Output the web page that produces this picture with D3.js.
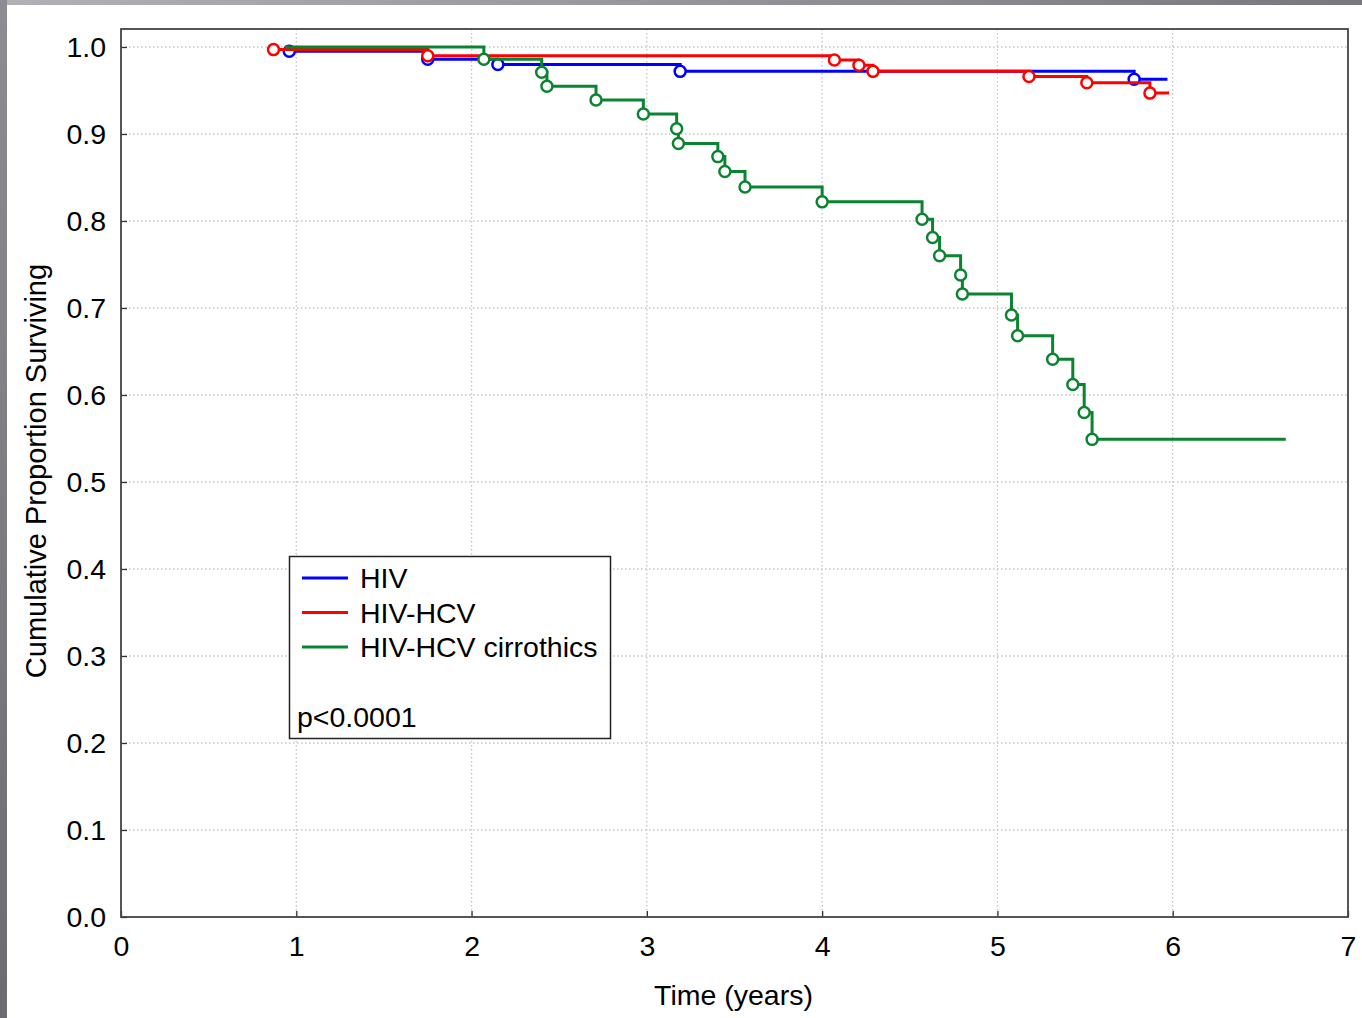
<!DOCTYPE html>
<html>
<head>
<meta charset="utf-8">
<script src="https://cdn.jsdelivr.net/npm/d3@7"></script>
<style>
  body { margin: 0; background: #fff; }
  text { font-family: "Liberation Sans", Arial, sans-serif; fill: #000; }
</style>
</head>
<body>
<svg id="chart"></svg>
<script>
// survival values (time in years, cumulative proportion)
const hivTime = [0.96, 1.75, 2.15, 3.19, 5.78];
const hivSurv = [0.995, 0.986, 0.980, 0.972, 0.963];
const hivEnd = 5.97;

const hcvTime = [0.87, 1.75, 4.07, 4.21, 4.29, 5.18, 5.51, 5.87];
const hcvSurv = [0.997, 0.990, 0.985, 0.979, 0.972, 0.966, 0.959, 0.947];
const hcvEnd = 5.98;

const cirrTime = [0.935, 2.07, 2.40, 2.43, 2.71, 2.98, 3.17, 3.18, 3.405, 3.445, 3.56, 4.00,
  4.57, 4.63, 4.67, 4.79, 4.80, 5.08, 5.115, 5.315, 5.43, 5.495, 5.54];
const cirrSurv = [1.0, 0.986, 0.971, 0.955, 0.939, 0.923, 0.906, 0.889, 0.874, 0.857, 0.839, 0.822,
  0.802, 0.781, 0.760, 0.738, 0.716, 0.692, 0.668, 0.641, 0.612, 0.580, 0.549];
const cirrEnd = 6.645;

const seriesNames = ["HIV", "HIV-HCV", "HIV-HCV cirrothics"];
const xTicks = [0, 1, 2, 3, 4, 5, 6, 7];
const yTicks = [0, 0.1, 0.2, 0.3, 0.4, 0.5, 0.6, 0.7, 0.8, 0.9, 1.0];
const pText = "p<0.0001";

const width = 1362, height = 1018;
const plotLeft = 121, plotRight = 1348, plotTop = 29, plotBottom = 917;

const svg = d3.select('#chart')
  .attr('width', width)
  .attr('height', height);

// grey window edge on top and left
const defs = svg.append('defs');
const gTop = defs.append('linearGradient').attr('id', 'gTop');
gTop.append('stop').attr('offset', '0%').attr('stop-color', '#b0b0b6');
gTop.append('stop').attr('offset', '100%').attr('stop-color', '#78787c');
const gLeft = defs.append('linearGradient').attr('id', 'gLeft')
  .attr('x1', 0).attr('y1', 0).attr('x2', 0).attr('y2', 1);
gLeft.append('stop').attr('offset', '0%').attr('stop-color', '#8c8c92');
gLeft.append('stop').attr('offset', '100%').attr('stop-color', '#6c6c70');

svg.append('rect').attr('width', width).attr('height', height).attr('fill', '#fff');
svg.append('rect').attr('x', 0).attr('y', 0).attr('width', width).attr('height', 5).attr('fill', 'url(#gTop)');
svg.append('rect').attr('x', 0).attr('y', 0).attr('width', 7).attr('height', height).attr('fill', 'url(#gLeft)');

const x = d3.scaleLinear().domain([0, 7]).range([plotLeft, plotRight]);
const y = d3.scaleLinear().domain([0, 1]).range([plotBottom, 47]);

// dotted grid
const grid = svg.append('g')
  .attr('stroke', '#c4c4c4')
  .attr('stroke-width', 1.3)
  .attr('stroke-dasharray', '1.5,2.5');
grid.selectAll('.vg')
  .data(xTicks.filter(d => d > 0 && d < 7))
  .join('line')
  .attr('class', 'vg')
  .attr('x1', d => x(d)).attr('x2', d => x(d))
  .attr('y1', plotTop).attr('y2', plotBottom);
grid.selectAll('.hg')
  .data(yTicks.filter(d => d > 0))
  .join('line')
  .attr('class', 'hg')
  .attr('x1', plotLeft).attr('x2', plotRight)
  .attr('y1', d => y(d)).attr('y2', d => y(d));

// axes, ticks pointing inwards
const yAxis = svg.append('g')
  .attr('transform', 'translate(' + plotLeft + ',0)')
  .call(d3.axisLeft(y).tickValues(yTicks).tickFormat(d3.format('.1f')).tickSize(-6).tickPadding(15));
const xAxis = svg.append('g')
  .attr('transform', 'translate(0,' + plotBottom + ')')
  .call(d3.axisBottom(x).tickValues(xTicks).tickFormat(d3.format('d')).tickSize(-6).tickPadding(19));

[xAxis, yAxis].forEach(a => {
  a.select('.domain').remove();
  a.selectAll('line').attr('stroke', '#333').attr('stroke-width', 1.3);
  a.selectAll('text')
    .attr('font-size', 28.5)
    .attr('font-family', '"Liberation Sans", Arial, sans-serif')
    .attr('fill', '#000');
});

// plot frame
svg.append('rect')
  .attr('x', plotLeft).attr('y', plotTop)
  .attr('width', plotRight - plotLeft).attr('height', plotBottom - plotTop)
  .attr('fill', 'none')
  .attr('stroke', '#444')
  .attr('stroke-width', 1.8);

// axis titles
svg.append('text')
  .attr('x', (plotLeft + plotRight) / 2 - 1)
  .attr('y', 1005)
  .attr('text-anchor', 'middle')
  .attr('font-size', 28.5)
  .text('Time (years)');
svg.append('text')
  .attr('transform', 'translate(46,471) rotate(-90)')
  .attr('text-anchor', 'middle')
  .attr('font-size', 29)
  .text('Cumulative Proportion Surviving');

// KM curves: blue under red under green
const series = [
  { name: seriesNames[0], color: '#0000ff', time: hivTime, surv: hivSurv, end: hivEnd, firstMark: true },
  { name: seriesNames[1], color: '#ff0000', time: hcvTime, surv: hcvSurv, end: hcvEnd, firstMark: true },
  { name: seriesNames[2], color: '#0a8430', time: cirrTime, surv: cirrSurv, end: cirrEnd, firstMark: false }
];

const line = d3.line()
  .x(d => x(d[0]))
  .y(d => y(d[1]))
  .curve(d3.curveStepAfter);

series.forEach(s => {
  const pts = s.time.map((t, i) => [t, s.surv[i]]);
  pts.push([s.end, s.surv[s.surv.length - 1]]);

  const g = svg.append('g');
  g.append('path')
    .attr('d', line(pts))
    .attr('fill', 'none')
    .attr('stroke', s.color)
    .attr('stroke-width', 3);

  const marks = s.time.map((t, i) => [t, s.surv[i]]).filter((d, i) => i > 0 || s.firstMark);
  g.selectAll('circle')
    .data(marks)
    .join('circle')
    .attr('cx', d => x(d[0]))
    .attr('cy', d => y(d[1]))
    .attr('r', 5.5)
    .attr('fill', '#fff')
    .attr('stroke', s.color)
    .attr('stroke-width', 2.5);
});

// legend box
const legend = svg.append('g');
legend.append('rect')
  .attr('x', 289.5).attr('y', 556.5)
  .attr('width', 321).attr('height', 182)
  .attr('fill', '#fff')
  .attr('stroke', '#222')
  .attr('stroke-width', 1.5);

series.forEach((s, i) => {
  const ly = 578 + i * 34.5;
  legend.append('line')
    .attr('x1', 302).attr('x2', 348)
    .attr('y1', ly).attr('y2', ly)
    .attr('stroke', s.color)
    .attr('stroke-width', 3);
  legend.append('text')
    .attr('x', 360)
    .attr('y', ly + 10)
    .attr('font-size', 28.5)
    .text(s.name);
});

legend.append('text')
  .attr('x', 297)
  .attr('y', 727)
  .attr('font-size', 28.5)
  .text(pText);
</script>
</body>
</html>
